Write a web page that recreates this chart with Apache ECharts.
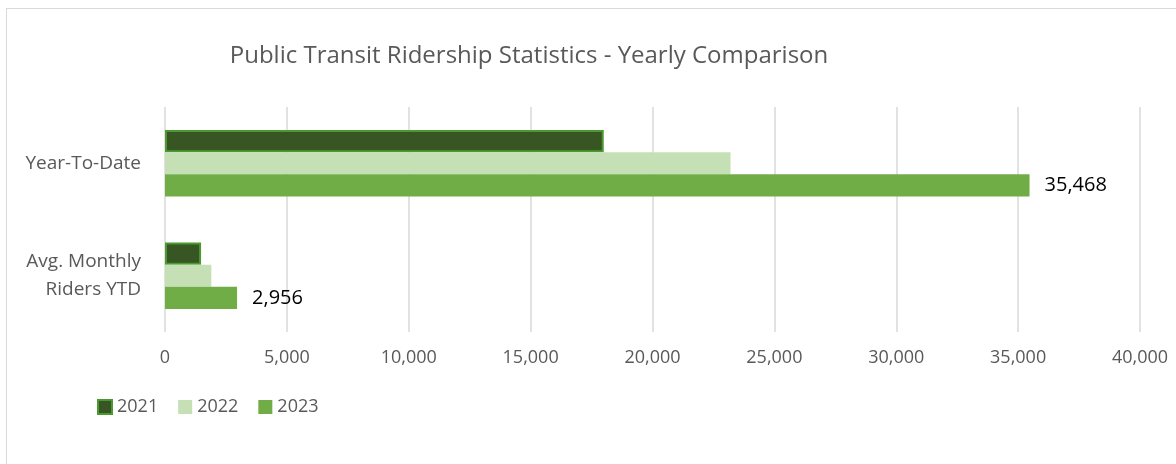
<!DOCTYPE html>
<html>
<head>
<meta charset="utf-8">
<script src="https://cdn.jsdelivr.net/npm/echarts@6/dist/echarts.min.js"></script>
<style>
  html, body { margin: 0; padding: 0; background: #fff; }
  #chart { width: 1176px; height: 464px; }
  #frame { position: absolute; left: 6px; top: 8px; width: 1200px; height: 500px; border: 1px solid #d9d9d9; pointer-events: none; }
</style>
</head>
<body>
<div id="chart"></div>
<div id="frame"></div>
<script>
// 分类与数据
const categories = ['Year-To-Date', 'Avg. Monthly\nRiders YTD'];
const years = ['2021', '2022', '2023'];
const values2021 = [18000, 1480];
const values2022 = [23200, 1900];
const values2023 = [35468, 2956];
const xTicks = { min: 0, max: 40000, interval: 5000 };

const chart = echarts.init(document.getElementById('chart'));
const FONT = 'Open Sans';
const GREY = '#595959';

const option = {
    animation: false,
    textStyle: { fontFamily: FONT },
    title: {
        text: 'Public Transit Ridership Statistics - Yearly Comparison',
        left: 524,
        textAlign: 'center',
        top: 39,
        textStyle: { fontFamily: FONT, fontSize: 24, fontWeight: 'normal', color: GREY }
    },
    legend: {
        left: 97,
        top: 398,
        padding: 0,
        itemWidth: 14,
        itemHeight: 14,
        itemGap: 20,
        icon: 'rect',
        textStyle: { fontFamily: FONT, fontSize: 18, color: GREY },
        data: years
    },
    grid: { left: 165, right: 36, top: 107, bottom: 132 },
    xAxis: {
        type: 'value',
        min: xTicks.min,
        max: xTicks.max,
        interval: xTicks.interval,
        axisLine: { show: false },
        axisTick: { show: false },
        splitLine: { lineStyle: { color: '#d9d9d9', width: 1.5 } },
        axisLabel: {
            margin: 17,
            fontFamily: FONT,
            fontSize: 18,
            color: GREY,
            formatter: v => v.toLocaleString('en-US')
        }
    },
    yAxis: {
        type: 'category',
        inverse: true,
        data: categories,
        axisLine: { show: false },
        axisTick: { show: false },
        axisLabel: {
            margin: 24,
            fontFamily: FONT,
            fontSize: 19,
            lineHeight: 28,
            color: GREY,
            align: 'right'
        }
    },
    series: [
        {
            name: years[0],
            type: 'bar',
            data: values2021,
            barGap: '0%',
            barCategoryGap: '41%',
            itemStyle: { color: '#375623', borderColor: '#4a9a30', borderWidth: 2 }
        },
        {
            name: years[1],
            type: 'bar',
            data: values2022,
            barGap: '0%',
            barCategoryGap: '41%',
            itemStyle: { color: '#c5e0b4' }
        },
        {
            name: years[2],
            type: 'bar',
            data: values2023,
            barGap: '0%',
            barCategoryGap: '41%',
            itemStyle: { color: '#70ad47' },
            label: {
                show: true,
                position: 'right',
                distance: 15,
                fontFamily: FONT,
                fontSize: 20,
                color: '#000',
                formatter: p => p.value.toLocaleString('en-US')
            }
        }
    ]
};

chart.setOption(option);
</script>
</body>
</html>
